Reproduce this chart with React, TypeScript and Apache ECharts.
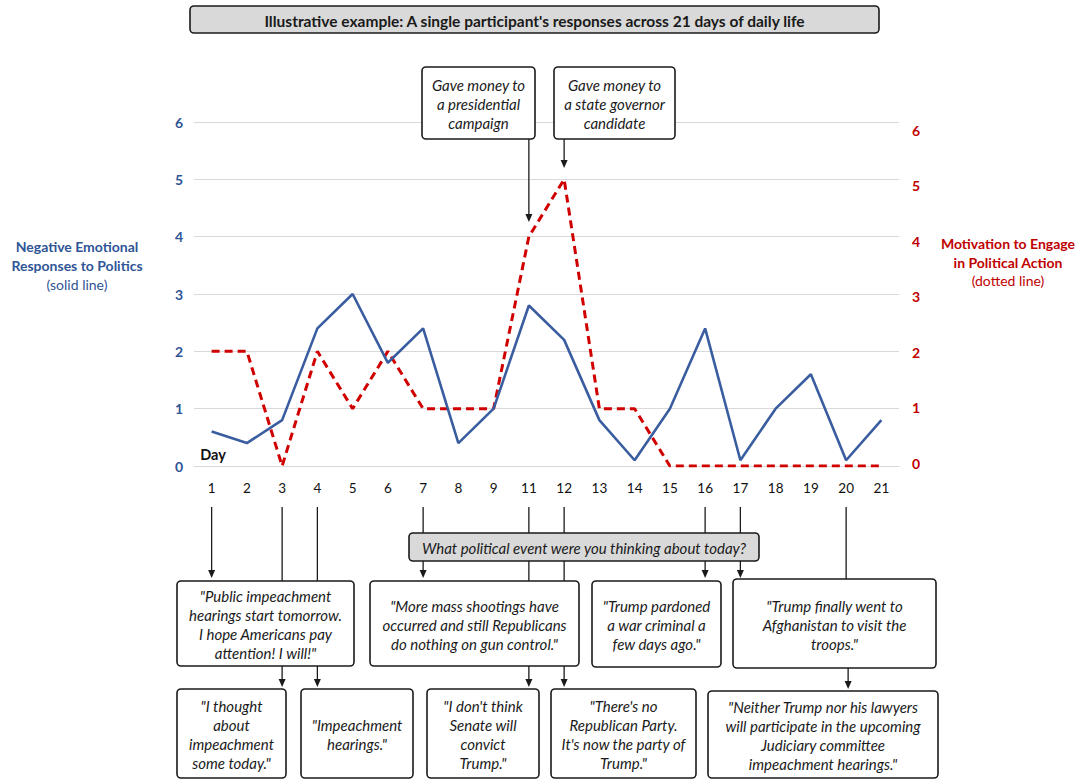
import React, { useEffect, useRef } from "react";
import * as echarts from "echarts";

const days = ["1", "2", "3", "4", "5", "6", "7", "8", "9", "11", "12", "13", "14", "15", "16", "17", "18", "19", "20", "21"];
const negativeEmotion = [0.6, 0.4, 0.8, 2.4, 3.0, 1.8, 2.4, 0.4, 1.0, 2.8, 2.2, 0.8, 0.1, 1.0, 2.4, 0.1, 1.0, 1.6, 0.1, 0.8];
const motivation = [2, 2, 0, 2, 1, 2, 1, 1, 1, 4, 5, 1, 1, 0, 0, 0, 0, 0, 0, 0];
const yMin = 0;
const yMax = 6;

const titleText = "Illustrative example: A single participant's responses across 21 days of daily life";
const leftNameLines = ["Negative Emotional", "Responses to Politics", "(solid line)"];
const rightNameLines = ["Motivation to Engage", "in Political Action", "(dotted line)"];
const questionText = "What political event were you thinking about today?";
const topNote11 = "Gave money to\na presidential\ncampaign";
const topNote12 = "Gave money to\na state governor\ncandidate";
const quoteA = "\"Public impeachment\nhearings start tomorrow.\nI hope Americans pay\nattention! I will!\"";
const quoteB = "\"I thought\nabout\nimpeachment\nsome today.\"";
const quoteC = "\"Impeachment\nhearings.\"";
const quoteD = "\"More mass shootings have\noccurred and still Republicans\ndo nothing on gun control.\"";
const quoteE = "\"I don't think\nSenate will\nconvict\nTrump.\"";
const quoteF = "\"There's no\nRepublican Party.\nIt's now the party of\nTrump.\"";
const quoteG = "\"Trump pardoned\na war criminal a\nfew days ago.\"";
const quoteH = "\"Trump finally went to\nAfghanistan to visit the\ntroops.\"";
const quoteI = "\"Neither Trump nor his lawyers\nwill participate in the upcoming\nJudiciary committee\nimpeachment hearings.\"";

const FONT = "Lato, 'Open Sans', sans-serif";
const BLUE = "#2F5597";
const RED = "#C00000";
const INK = "#1a1a1a";

export default function App() {
  const ref = useRef<HTMLDivElement>(null);
  useEffect(() => {
    const chart = echarts.init(ref.current!, null, { renderer: "svg" });
    chart.setOption({
      animation: false,
      backgroundColor: "#ffffff",
      grid: [
        { left: 194, right: 182, top: 122, bottom: 316 },
        { left: 194, right: 182, top: 130, bottom: 319 },
      ],
      xAxis: [
        {
          type: "category",
          gridIndex: 0,
          data: days,
          boundaryGap: true,
          axisLine: { show: true, lineStyle: { color: "#D9D9D9", width: 1 } },
          axisTick: { show: false },
          axisLabel: { color: "#111", fontFamily: FONT, fontSize: 13.5, margin: 15 },
        },
        { type: "category", gridIndex: 1, data: days, show: false },
      ],
      yAxis: [
        {
          type: "value",
          gridIndex: 0,
          min: yMin,
          max: yMax,
          interval: 1,
          axisLine: { show: false },
          axisTick: { show: false },
          splitLine: { lineStyle: { color: "#D9D9D9", width: 1 } },
          axisLabel: { color: BLUE, fontFamily: FONT, fontSize: 14, fontWeight: "bold", margin: 11 },
        },
        {
          type: "value",
          gridIndex: 1,
          position: "right",
          min: yMin,
          max: yMax,
          interval: 1,
          axisLine: { show: false },
          axisTick: { show: false },
          splitLine: { show: false },
          axisLabel: { color: RED, fontFamily: FONT, fontSize: 14, fontWeight: "bold", margin: 13 },
        },
      ],
      series: [
        {
          name: "Motivation to Engage in Political Action",
          type: "line",
          xAxisIndex: 0,
          yAxisIndex: 0,
          data: motivation,
          symbol: "none",
          lineStyle: { color: "#D00000", width: 3, type: [8, 5] },
          z: 2,
        },
        {
          name: "Negative Emotional Responses to Politics",
          type: "line",
          xAxisIndex: 0,
          yAxisIndex: 0,
          data: negativeEmotion,
          symbol: "none",
          lineStyle: { color: "#3A5DA0", width: 2.6 },
          z: 3,
        },
      ],
    });

    const px = (d: string) => chart.convertToPixel({ xAxisIndex: 0 }, days.indexOf(d)) as number;
    const els: any[] = [];
    const line = (x: number, y1: number, y2: number) =>
      els.push({ type: "line", shape: { x1: x, y1, x2: x, y2 }, style: { stroke: INK, lineWidth: 1.3 }, z: 10 });
    const arrow = (x: number, y1: number, tip: number) => {
      line(x, y1, tip - 4);
      els.push({
        type: "polygon",
        shape: { points: [[x - 3.5, tip - 8], [x + 3.5, tip - 8], [x, tip]] },
        style: { fill: INK },
        z: 10,
      });
    };
    const box = (x1: number, y1: number, x2: number, y2: number, text: string, fill = "#ffffff", font = `italic 15px ${FONT}`) => {
      els.push({
        type: "rect",
        shape: { x: x1, y: y1, width: x2 - x1, height: y2 - y1, r: 4 },
        style: { fill, stroke: INK, lineWidth: 1.6 },
        z: 11,
      });
      els.push({
        type: "text",
        x: (x1 + x2) / 2,
        y: (y1 + y2) / 2 + 1,
        style: { text, font, fill: INK, align: "center", verticalAlign: "middle", lineHeight: 19 },
        z: 12,
      });
    };
    const label = (x: number, y: number, text: string, fill: string, font: string) =>
      els.push({ type: "text", x, y, style: { text, font, fill, align: "center", verticalAlign: "middle" }, z: 12 });

    // title
    box(190, 6, 879, 33, titleText, "#D9D9D9", `bold 15.5px ${FONT}`);

    // axis names
    label(77, 246, leftNameLines[0], BLUE, `bold 14px ${FONT}`);
    label(77, 265, leftNameLines[1], BLUE, `bold 14px ${FONT}`);
    label(77, 284, leftNameLines[2], BLUE, `14px ${FONT}`);
    label(1008, 243, rightNameLines[0], RED, `bold 14px ${FONT}`);
    label(1008, 262, rightNameLines[1], RED, `bold 14px ${FONT}`);
    label(1008, 280, rightNameLines[2], RED, `14px ${FONT}`);
    label(213, 454, "Day", "#111", `bold 14.5px ${FONT}`);

    // top annotations
    const x11 = px("11");
    const x12 = px("12");
    box(422, 67, 535, 139, topNote11);
    box(554, 67, 675, 139, topNote12);
    arrow(x11, 139, 222);
    arrow(x12, 139, 168);

    // bottom annotations
    const x1 = px("1"), x3 = px("3"), x4 = px("4"), x7 = px("7");
    const x16 = px("16"), x17 = px("17"), x20 = px("20");
    const top = 507;
    arrow(x1, top, 578);
    line(x3, top, 581);
    arrow(x3, 666, 687);
    line(x4, top, 581);
    arrow(x4, 666, 687);
    line(x7, top, 533);
    arrow(x7, 561, 578);
    line(x11, top, 533);
    line(x11, 561, 581);
    arrow(x11, 666, 687);
    line(x12, top, 533);
    line(x12, 561, 581);
    arrow(x12, 666, 687);
    line(x16, top, 533);
    arrow(x16, 561, 578);
    line(x17, top, 533);
    arrow(x17, 561, 578);
    line(x20, top, 579);
    arrow(x20 + 2, 668, 689);

    box(409, 533, 759, 561, questionText, "#D9D9D9", `italic 15px ${FONT}`);
    box(177, 581, 354, 666, quoteA);
    box(177, 689, 286, 778, quoteB);
    box(301, 689, 413, 778, quoteC);
    box(370, 581, 579, 666, quoteD);
    box(427, 689, 539, 778, quoteE);
    box(551, 689, 696, 778, quoteF);
    box(592, 581, 721, 667, quoteG);
    box(733, 579, 936, 668, quoteH);
    box(708, 691, 938, 778, quoteI);

    chart.setOption({ graphic: { elements: els } });
    return () => chart.dispose();
  }, []);
  return <div ref={ref} style={{ position: "fixed", left: 0, top: 0, width: 1081, height: 782 }} />;
}
